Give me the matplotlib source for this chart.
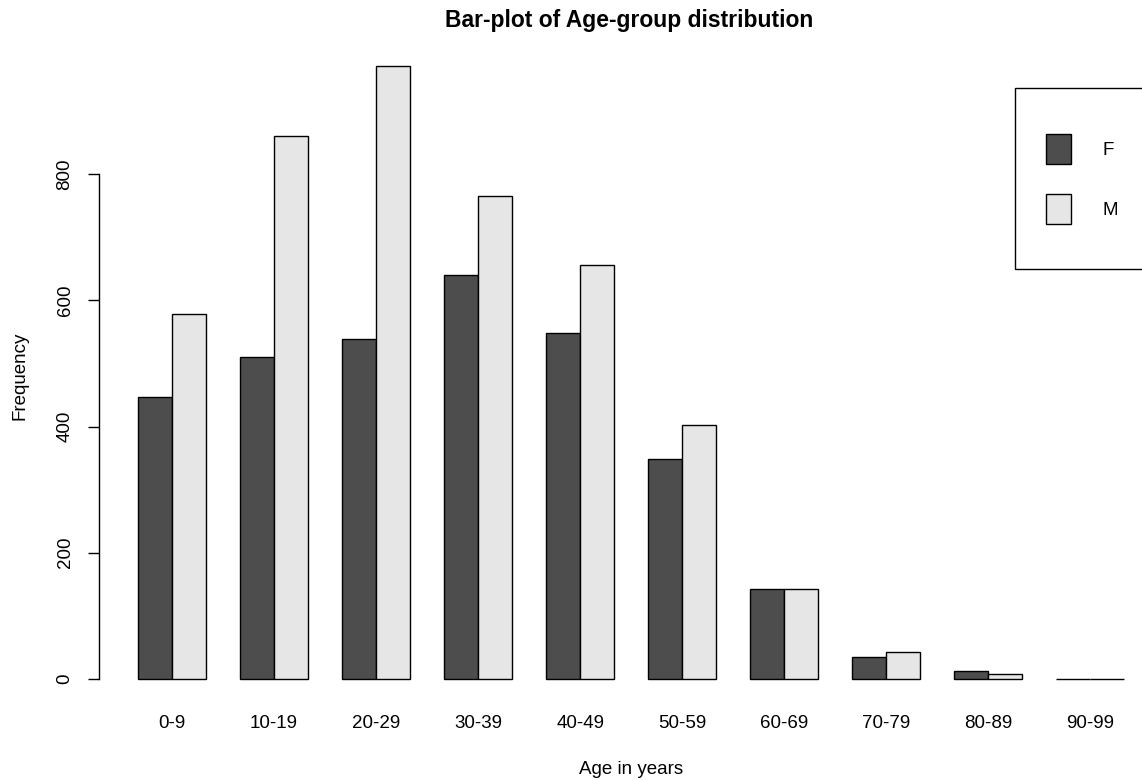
#!/usr/bin/env python3
# grouped bar plot of age groups by sex, drawn in the style of R's barplot()

import numpy as np
import matplotlib.pyplot as plt
from matplotlib.patches import Rectangle

plt.rcParams['font.family'] = ['Liberation Sans', 'DejaVu Sans']

# data
age_groups = ['0-9', '10-19', '20-29', '30-39', '40-49',
              '50-59', '60-69', '70-79', '80-89', '90-99']
female = [447, 510, 538, 640, 548, 348, 143, 35, 12, 0]
male = [578, 861, 972, 766, 656, 402, 143, 43, 8, 0]

W, H = 1142, 780
fig = plt.figure(figsize=(W / 100, H / 100), dpi=100)

# plot region in pixels (R extends it past the right edge of the device)
left, right, top, bottom = 98.6, 1163.7, 41.0, 703.5
ax = fig.add_axes([left / W, 1 - bottom / H, (right - left) / W, (bottom - top) / H])

# R layout: space=c(0,1) -> each group takes 3 units, first bar starts at 1
x = 1 + 3 * np.arange(len(age_groups))
ax.bar(x, female, width=1, align='edge', color='#4D4D4D',
       edgecolor='black', linewidth=1, label='F')
ax.bar(x + 1, male, width=1, align='edge', color='#E6E6E6',
       edgecolor='black', linewidth=1, label='M')

# R pads the axis range by 4 % on each side
xmin, xmax = 1, 3 * len(age_groups)
ymax = max(max(female), max(male))
ax.set_xlim(xmin - 0.04 * (xmax - xmin), xmax + 0.04 * (xmax - xmin))
ax.set_ylim(-0.04 * ymax, 1.04 * ymax)

for s in ['top', 'right', 'bottom']:
    ax.spines[s].set_visible(False)
ax.spines['left'].set_bounds(0, 800)
ax.spines['left'].set_linewidth(1)

ax.set_yticks([0, 200, 400, 600, 800])
ax.tick_params(axis='y', direction='out', length=8, width=1,
               pad=10, labelsize=13.5)
for lab in ax.get_yticklabels():
    lab.set_rotation(90)
    lab.set_va('center')

ax.set_xticks(x + 1)
ax.set_xticklabels(age_groups)
ax.tick_params(axis='x', length=0, pad=8, labelsize=13.5)

ax.set_xlabel('Age in years', fontsize=13.5, va='center')
ax.xaxis.set_label_coords((631 - left) / (right - left), (bottom - 769) / (bottom - top))
ax.set_ylabel('Frequency', fontsize=13.5, va='center')
ax.yaxis.set_label_coords((20 - left) / (right - left), (bottom - 376) / (bottom - top))

fig.text(629.5 / W, 1 - 21 / H, 'Bar-plot of Age-group distribution',
         ha='center', va='center', fontsize=16.5, fontweight='bold')

# legend, boxed like R's legend("topright", ...)
fs = 13.5
px = fs * 100 / 72
ax.legend(loc='upper left', bbox_to_anchor=(1046 / W, 1 - 134 / H),
          bbox_transform=fig.transFigure, frameon=False, fontsize=fs,
          borderpad=0, borderaxespad=0, handlelength=25 / px,
          handleheight=(30 / px - 0.245) / 0.65,
          labelspacing=30 / px, handletextpad=31 / px)
fig.patches.append(Rectangle((1015 / W, 1 - 269 / H), 160 / W, 181 / H,
                             transform=fig.transFigure, fill=False,
                             edgecolor='black', linewidth=1))

plt.savefig('out.png', dpi=100)
